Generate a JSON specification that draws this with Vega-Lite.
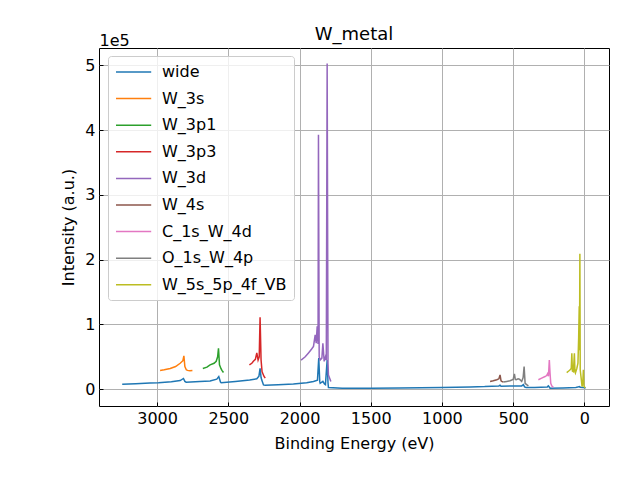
{
  "$schema": "https://vega.github.io/schema/vega-lite/v6.json",
  "autosize": "none",
  "padding": {"left": 99, "top": 48, "right": 31, "bottom": 74},
  "width": 510,
  "height": 358,
  "title": {"text": "W_metal", "fontSize": 18, "font": "DejaVu Sans", "fontWeight": "normal", "offset": -12, "color": "black"},
  "data": {
    "values": [
      {"s": "wide", "e": 3245, "i": 7700}, {"s": "wide", "e": 3150, "i": 8500}, {"s": "wide", "e": 3050, "i": 9500},
      {"s": "wide", "e": 2990, "i": 10000}, {"s": "wide", "e": 2900, "i": 11500}, {"s": "wide", "e": 2838, "i": 13300},
      {"s": "wide", "e": 2815, "i": 16500}, {"s": "wide", "e": 2805, "i": 12000}, {"s": "wide", "e": 2796, "i": 10800},
      {"s": "wide", "e": 2700, "i": 11800}, {"s": "wide", "e": 2628, "i": 12800}, {"s": "wide", "e": 2581, "i": 15500},
      {"s": "wide", "e": 2567, "i": 19500}, {"s": "wide", "e": 2555, "i": 11000}, {"s": "wide", "e": 2550, "i": 10000},
      {"s": "wide", "e": 2450, "i": 12000}, {"s": "wide", "e": 2350, "i": 14000}, {"s": "wide", "e": 2300, "i": 16000},
      {"s": "wide", "e": 2285, "i": 20000}, {"s": "wide", "e": 2277, "i": 32000}, {"s": "wide", "e": 2270, "i": 18000},
      {"s": "wide", "e": 2265, "i": 14000}, {"s": "wide", "e": 2253, "i": 6600}, {"s": "wide", "e": 2241, "i": 6000},
      {"s": "wide", "e": 2150, "i": 7000}, {"s": "wide", "e": 2043, "i": 8000}, {"s": "wide", "e": 1950, "i": 10000},
      {"s": "wide", "e": 1902, "i": 12000}, {"s": "wide", "e": 1874, "i": 14000}, {"s": "wide", "e": 1865, "i": 48000},
      {"s": "wide", "e": 1858, "i": 12000}, {"s": "wide", "e": 1855, "i": 9000}, {"s": "wide", "e": 1836, "i": 12000},
      {"s": "wide", "e": 1825, "i": 8000}, {"s": "wide", "e": 1818, "i": 7000}, {"s": "wide", "e": 1806, "i": 45000},
      {"s": "wide", "e": 1800, "i": 10000}, {"s": "wide", "e": 1797, "i": 2500}, {"s": "wide", "e": 1700, "i": 1600},
      {"s": "wide", "e": 1500, "i": 1500}, {"s": "wide", "e": 1300, "i": 1800}, {"s": "wide", "e": 1000, "i": 2500},
      {"s": "wide", "e": 800, "i": 3500}, {"s": "wide", "e": 700, "i": 4000}, {"s": "wide", "e": 600, "i": 5000},
      {"s": "wide", "e": 592, "i": 6200}, {"s": "wide", "e": 585, "i": 4500}, {"s": "wide", "e": 500, "i": 5000},
      {"s": "wide", "e": 440, "i": 5000}, {"s": "wide", "e": 428, "i": 7000}, {"s": "wide", "e": 420, "i": 3500},
      {"s": "wide", "e": 409, "i": 2500}, {"s": "wide", "e": 350, "i": 2500}, {"s": "wide", "e": 260, "i": 3500},
      {"s": "wide", "e": 253, "i": 5000}, {"s": "wide", "e": 245, "i": 3000}, {"s": "wide", "e": 241, "i": 1500},
      {"s": "wide", "e": 150, "i": 1800}, {"s": "wide", "e": 60, "i": 2500}, {"s": "wide", "e": 33, "i": 4000},
      {"s": "wide", "e": 30, "i": 3000}, {"s": "wide", "e": 10, "i": 2500}, {"s": "wide", "e": -10, "i": 2000},

      {"s": "W_3s", "e": 2979, "i": 29000}, {"s": "W_3s", "e": 2950, "i": 30000}, {"s": "W_3s", "e": 2908, "i": 32000},
      {"s": "W_3s", "e": 2870, "i": 35000}, {"s": "W_3s", "e": 2838, "i": 40000}, {"s": "W_3s", "e": 2819, "i": 44000},
      {"s": "W_3s", "e": 2812, "i": 51500}, {"s": "W_3s", "e": 2805, "i": 35000}, {"s": "W_3s", "e": 2795, "i": 30000},
      {"s": "W_3s", "e": 2787, "i": 29000}, {"s": "W_3s", "e": 2770, "i": 28500}, {"s": "W_3s", "e": 2752, "i": 29000},

      {"s": "W_3p1", "e": 2679, "i": 32000}, {"s": "W_3p1", "e": 2650, "i": 34000}, {"s": "W_3p1", "e": 2628, "i": 37500},
      {"s": "W_3p1", "e": 2600, "i": 40000}, {"s": "W_3p1", "e": 2585, "i": 43000}, {"s": "W_3p1", "e": 2575, "i": 50000},
      {"s": "W_3p1", "e": 2569, "i": 63000}, {"s": "W_3p1", "e": 2562, "i": 37500}, {"s": "W_3p1", "e": 2552, "i": 32000},
      {"s": "W_3p1", "e": 2545, "i": 29000}, {"s": "W_3p1", "e": 2534, "i": 25700},

      {"s": "W_3p3", "e": 2352, "i": 37500}, {"s": "W_3p3", "e": 2335, "i": 40000}, {"s": "W_3p3", "e": 2324, "i": 43000},
      {"s": "W_3p3", "e": 2310, "i": 46000}, {"s": "W_3p3", "e": 2300, "i": 56000}, {"s": "W_3p3", "e": 2291, "i": 45000},
      {"s": "W_3p3", "e": 2283, "i": 50000}, {"s": "W_3p3", "e": 2277, "i": 111000}, {"s": "W_3p3", "e": 2270, "i": 45000},
      {"s": "W_3p3", "e": 2263, "i": 27000}, {"s": "W_3p3", "e": 2250, "i": 20000}, {"s": "W_3p3", "e": 2241, "i": 17000},

      {"s": "W_3d", "e": 1989, "i": 45000}, {"s": "W_3d", "e": 1960, "i": 50000}, {"s": "W_3d", "e": 1937, "i": 56000},
      {"s": "W_3d", "e": 1915, "i": 62000}, {"s": "W_3d", "e": 1902, "i": 66000}, {"s": "W_3d", "e": 1890, "i": 84000},
      {"s": "W_3d", "e": 1883, "i": 71000}, {"s": "W_3d", "e": 1876, "i": 97000}, {"s": "W_3d", "e": 1870, "i": 70000},
      {"s": "W_3d", "e": 1867, "i": 393000}, {"s": "W_3d", "e": 1862, "i": 50000}, {"s": "W_3d", "e": 1855, "i": 45000},
      {"s": "W_3d", "e": 1843, "i": 48000}, {"s": "W_3d", "e": 1836, "i": 71000}, {"s": "W_3d", "e": 1827, "i": 43000},
      {"s": "W_3d", "e": 1818, "i": 50000}, {"s": "W_3d", "e": 1812, "i": 45000}, {"s": "W_3d", "e": 1806, "i": 503000},
      {"s": "W_3d", "e": 1800, "i": 40000}, {"s": "W_3d", "e": 1797, "i": 22000}, {"s": "W_3d", "e": 1780, "i": 12000},

      {"s": "W_4s", "e": 662, "i": 12000}, {"s": "W_4s", "e": 640, "i": 13000}, {"s": "W_4s", "e": 615, "i": 14500},
      {"s": "W_4s", "e": 600, "i": 16000}, {"s": "W_4s", "e": 592, "i": 22000}, {"s": "W_4s", "e": 585, "i": 13000},
      {"s": "W_4s", "e": 580, "i": 12000}, {"s": "W_4s", "e": 569, "i": 11000},

      {"s": "C_1s_W_4d", "e": 323, "i": 14500}, {"s": "C_1s_W_4d", "e": 300, "i": 17000}, {"s": "C_1s_W_4d", "e": 276, "i": 19500},
      {"s": "C_1s_W_4d", "e": 265, "i": 21000}, {"s": "C_1s_W_4d", "e": 258, "i": 24000}, {"s": "C_1s_W_4d", "e": 252, "i": 20000},
      {"s": "C_1s_W_4d", "e": 246, "i": 45000}, {"s": "C_1s_W_4d", "e": 241, "i": 25000}, {"s": "C_1s_W_4d", "e": 236, "i": 9000},
      {"s": "C_1s_W_4d", "e": 228, "i": 5000}, {"s": "C_1s_W_4d", "e": 218, "i": 3000},

      {"s": "O_1s_W_4p", "e": 569, "i": 11000}, {"s": "O_1s_W_4p", "e": 545, "i": 12000}, {"s": "O_1s_W_4p", "e": 522, "i": 13000},
      {"s": "O_1s_W_4p", "e": 500, "i": 15000}, {"s": "O_1s_W_4p", "e": 491, "i": 23600}, {"s": "O_1s_W_4p", "e": 485, "i": 15000},
      {"s": "O_1s_W_4p", "e": 479, "i": 14500}, {"s": "O_1s_W_4p", "e": 465, "i": 16000}, {"s": "O_1s_W_4p", "e": 456, "i": 15500},
      {"s": "O_1s_W_4p", "e": 440, "i": 12000}, {"s": "O_1s_W_4p", "e": 430, "i": 18000}, {"s": "O_1s_W_4p", "e": 423, "i": 35000},
      {"s": "O_1s_W_4p", "e": 416, "i": 9000}, {"s": "O_1s_W_4p", "e": 405, "i": 7000}, {"s": "O_1s_W_4p", "e": 393, "i": 5000},

      {"s": "W_5s_5p_4f_VB", "e": 124, "i": 25700}, {"s": "W_5s_5p_4f_VB", "e": 110, "i": 28000}, {"s": "W_5s_5p_4f_VB", "e": 100, "i": 30000},
      {"s": "W_5s_5p_4f_VB", "e": 92, "i": 32000}, {"s": "W_5s_5p_4f_VB", "e": 88, "i": 55600}, {"s": "W_5s_5p_4f_VB", "e": 84, "i": 28000},
      {"s": "W_5s_5p_4f_VB", "e": 77, "i": 27000}, {"s": "W_5s_5p_4f_VB", "e": 70, "i": 55600}, {"s": "W_5s_5p_4f_VB", "e": 66, "i": 27000},
      {"s": "W_5s_5p_4f_VB", "e": 63, "i": 25000}, {"s": "W_5s_5p_4f_VB", "e": 53, "i": 32000}, {"s": "W_5s_5p_4f_VB", "e": 45, "i": 40000},
      {"s": "W_5s_5p_4f_VB", "e": 40, "i": 80000}, {"s": "W_5s_5p_4f_VB", "e": 36, "i": 128000}, {"s": "W_5s_5p_4f_VB", "e": 34, "i": 60000},
      {"s": "W_5s_5p_4f_VB", "e": 31.5, "i": 209000}, {"s": "W_5s_5p_4f_VB", "e": 29, "i": 30000}, {"s": "W_5s_5p_4f_VB", "e": 24, "i": 20000},
      {"s": "W_5s_5p_4f_VB", "e": 16, "i": 4000}, {"s": "W_5s_5p_4f_VB", "e": 10, "i": 15000}, {"s": "W_5s_5p_4f_VB", "e": 7, "i": 30000},
      {"s": "W_5s_5p_4f_VB", "e": 3, "i": 5000}, {"s": "W_5s_5p_4f_VB", "e": 0, "i": 4000}, {"s": "W_5s_5p_4f_VB", "e": -5, "i": 2000}
    ]
  },
  "layer": [
    {
      "mark": {"type": "line", "strokeWidth": 1.5, "clip": true},
      "encoding": {
        "x": {
          "field": "e", "type": "quantitative",
          "scale": {"domain": [3408, -173], "nice": false, "zero": false},
          "axis": {"title": "Binding Energy (eV)", "values": [0, 500, 1000, 1500, 2000, 2500, 3000], "format": "d", "titlePadding": 9}
        },
        "y": {
          "field": "i", "type": "quantitative",
          "scale": {"domain": [-26000, 527000], "nice": false, "zero": false},
          "axis": {
            "title": "Intensity (a.u.)",
            "values": [0, 100000, 200000, 300000, 400000, 500000],
            "labelExpr": "format(datum.value / 100000, 'd')",
            "titlePadding": 8
          }
        },
        "color": {
          "field": "s", "type": "nominal",
          "scale": {
            "domain": ["wide", "W_3s", "W_3p1", "W_3p3", "W_3d", "W_4s", "C_1s_W_4d", "O_1s_W_4p", "W_5s_5p_4f_VB"],
            "range": ["#1f77b4", "#ff7f0e", "#2ca02c", "#d62728", "#9467bd", "#8c564b", "#e377c2", "#7f7f7f", "#bcbd22"]
          },
          "legend": {
            "title": null, "orient": "none", "legendX": 9, "legendY": 8,
            "symbolType": "M-1,0H3.4", "symbolSize": 256, "symbolStrokeWidth": 1.5,
            "labelFontSize": 16, "labelOffset": 29, "rowPadding": 9.6, "padding": 7,
            "fillColor": "rgba(255,255,255,0.8)", "strokeColor": "#cccccc", "cornerRadius": 3
          }
        }
      }
    },
    {
      "transform": [{"filter": "datum.s === 'none'"}],
      "mark": {"type": "line"},
      "encoding": {
        "x": {"field": "e", "type": "quantitative"},
        "y": {
          "field": "i", "type": "quantitative",
          "axis": {
            "orient": "left", "title": "1e5", "titleAngle": 0, "titleAlign": "left", "titleBaseline": "alphabetic",
            "titleX": 0, "titleY": -3, "labels": false, "ticks": false, "domain": false, "grid": false
          }
        }
      }
    }
  ],
  "resolve": {"axis": {"y": "independent"}},
  "config": {
    "font": "DejaVu Sans",
    "view": {"stroke": "black", "strokeWidth": 1},
    "axis": {
      "domain": false, "grid": true, "gridColor": "#b0b0b0", "gridWidth": 1, "gridOpacity": 1,
      "tickColor": "black", "tickSize": -4, "tickWidth": 1,
      "labelFontSize": 16, "labelColor": "black", "labelPadding": 8, "labelFont": "DejaVu Sans",
      "titleFontSize": 16, "titleFontWeight": "normal", "titleColor": "black", "titleFont": "DejaVu Sans"
    },
    "legend": {"labelFont": "DejaVu Sans", "labelColor": "black"}
  }
}
